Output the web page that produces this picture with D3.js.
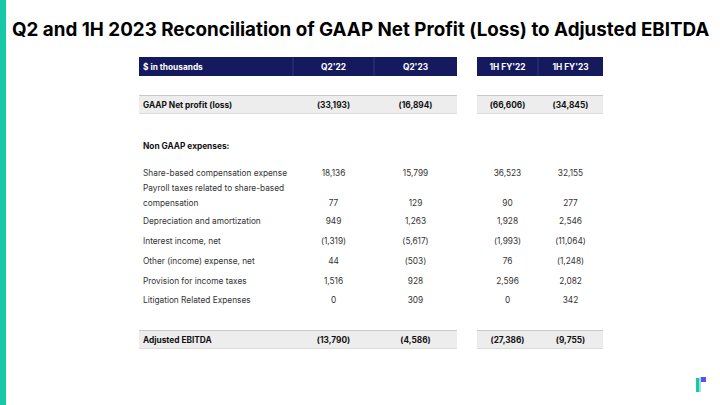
<!DOCTYPE html>
<html><head><meta charset="utf-8">
<script src="https://cdn.jsdelivr.net/npm/d3@7"></script>
<style>
html,body{margin:0;padding:0;background:#fff;}
svg{display:block;font-family:Inter,"Open Sans",sans-serif;font-variant-ligatures:none;}
</style></head>
<body><svg id="c" width="720" height="405"></svg>
<script>
const title = "Q2 and 1H 2023 Reconciliation of GAAP Net Profit (Loss) to Adjusted EBITDA";
const unitLabel = "$ in thousands";
const periods = ["Q2'22", "Q2'23", "1H FY'22", "1H FY'23"];
const gaapLabel = "GAAP Net profit (loss)";
const gaapValues = [-33193, -16894, -66606, -34845];
const sectionLabel = "Non GAAP expenses:";
const itemLabels = [
  ["Share-based compensation expense"],
  ["Payroll taxes related to share-based", "compensation"],
  ["Depreciation and amortization"],
  ["Interest income, net"],
  ["Other (income) expense, net"],
  ["Provision for income taxes"],
  ["Litigation Related Expenses"]
];
const q2_22 = [18136, 77, 949, -1319, 44, 1516, 0];
const q2_23 = [15799, 129, 1263, -5617, -503, 928, 309];
const h1_22 = [36523, 90, 1928, -1993, 76, 2596, 0];
const h1_23 = [32155, 277, 2546, -11064, -1248, 2082, 342];
const ebitdaLabel = "Adjusted EBITDA";
const ebitdaValues = [-13790, -4586, -27386, -9755];

const svg = d3.select("#c");
const fmt = d3.format(",");
const fmtV = v => v < 0 ? "(" + fmt(-v) + ")" : fmt(v);
const FS = 8.3;

svg.append("rect").attr("x",0).attr("y",0).attr("width",6).attr("height",405).attr("fill","#16c8a6");

const t = svg.append("text").attr("x",12).attr("y",36).attr("font-weight",700)
  .attr("font-size",18).attr("fill","#000").text(title);
const tw = t.node().getComputedTextLength();
t.attr("font-size", 18 * 698 / tw);

const colEdges = {[periods[0]]:[293,374], [periods[1]]:[374,457], [periods[2]]:[477,538], [periods[3]]:[538,603]};
const colCenter = p => (colEdges[p][0] + colEdges[p][1]) / 2;
const navy = "#15195e";

svg.append("rect").attr("x",139).attr("y",57).attr("width",457-139).attr("height",19).attr("fill",navy);
svg.append("rect").attr("x",477).attr("y",57).attr("width",603-477).attr("height",19).attr("fill",navy);
[293,374,538].forEach(x => svg.append("line").attr("x1",x).attr("x2",x).attr("y1",57).attr("y2",76)
  .attr("stroke","#3a3f7e").attr("stroke-width",0.8));
svg.append("text").attr("x",143).attr("y",69.8).attr("fill","#fff").attr("font-weight",700).attr("font-size",FS).text(unitLabel);
svg.selectAll("text.hd").data(periods).enter().append("text").attr("class","hd")
  .attr("x", d => colCenter(d)).attr("y",69.8).attr("text-anchor","middle")
  .attr("fill","#fff").attr("font-weight",700).attr("font-size",FS).text(d => d);

function grayRow(y, h, label, vals) {
  [[139,457],[477,603]].forEach(([a,b]) => {
    svg.append("rect").attr("x",a).attr("y",y).attr("width",b-a).attr("height",h).attr("fill","#ededed");
    svg.append("line").attr("x1",a).attr("x2",b).attr("y1",y+0.5).attr("y2",y+0.5).attr("stroke","#c9c9c9").attr("stroke-width",1);
    svg.append("line").attr("x1",a).attr("x2",b).attr("y1",y+h-0.5).attr("y2",y+h-0.5).attr("stroke","#dcdcdc").attr("stroke-width",1);
  });
  const ty = y + h/2 + 3;
  svg.append("text").attr("x",143).attr("y",ty).attr("font-weight",700).attr("font-size",FS).attr("fill","#111").text(label);
  svg.selectAll(null).data(vals).enter().append("text")
    .attr("x",(d,i)=>colCenter(periods[i])).attr("y",ty).attr("text-anchor","middle")
    .attr("font-weight",700).attr("font-size",FS).attr("fill","#111").text(d=>fmtV(d));
}
grayRow(95, 19, gaapLabel, gaapValues);
grayRow(330, 19, ebitdaLabel, ebitdaValues);

svg.append("text").attr("x",143).attr("y",149).attr("font-weight",700).attr("font-size",FS).attr("fill","#111").text(sectionLabel);

const rowY = [176, 206, 224, 244, 264, 284, 303];
const series = [q2_22, q2_23, h1_22, h1_23];
itemLabels.forEach((lines, r) => {
  const y = rowY[r];
  lines.forEach((ln, k) => {
    svg.append("text").attr("x",143).attr("y", y - (lines.length - 1 - k) * 15)
      .attr("font-size",FS).attr("fill","#333").text(ln);
  });
  svg.selectAll(null).data(series.map(s => s[r])).enter().append("text")
    .attr("x",(d,i)=>colCenter(periods[i])).attr("y",y).attr("text-anchor","middle")
    .attr("font-size",FS).attr("fill","#333").text(d=>fmtV(d));
});

svg.append("rect").attr("x",696).attr("y",378).attr("width",3.5).attr("height",14).attr("fill","#16c8a6");
svg.append("rect").attr("x",699.5).attr("y",377).attr("width",1.5).attr("height",15).attr("fill","#9fe6d8");
svg.append("rect").attr("x",701).attr("y",377).attr("width",5).attr("height",5).attr("fill","#5a4ff3");
</script></body></html>
